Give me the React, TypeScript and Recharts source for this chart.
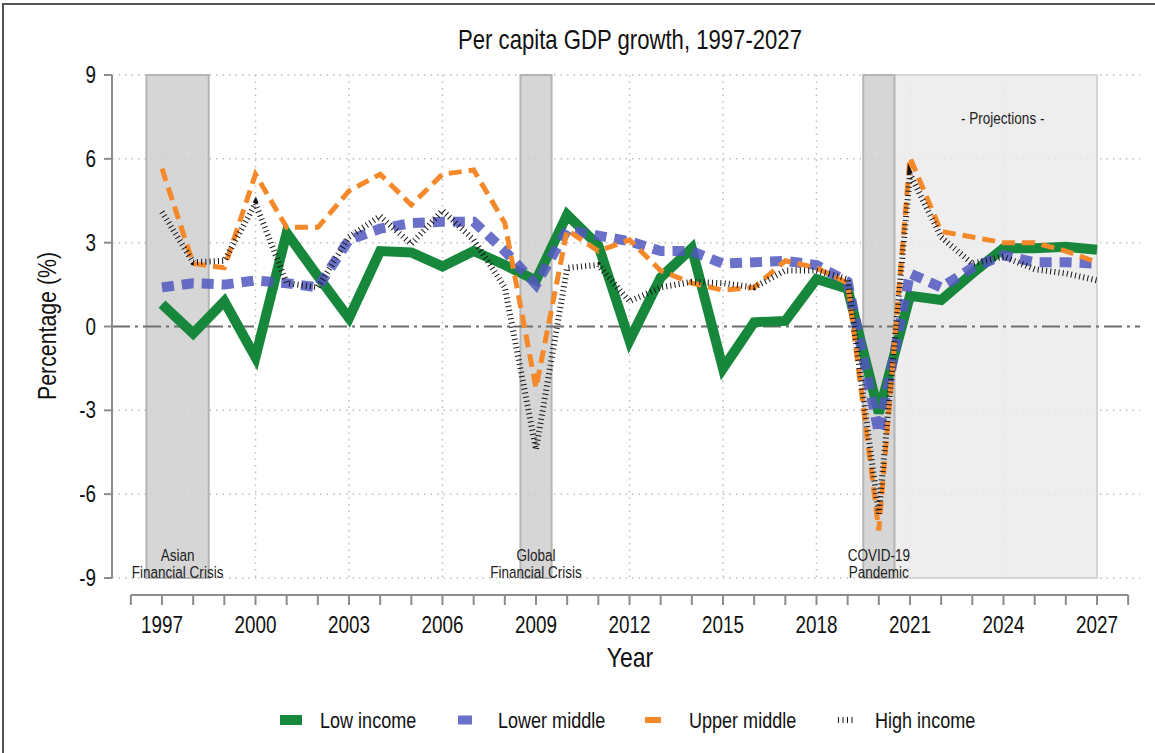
import React from 'react'
import {
  ComposedChart,
  Line,
  XAxis,
  YAxis,
  CartesianGrid,
  ReferenceArea,
  ReferenceLine,
  Legend,
} from 'recharts'

// Arial metrics squeezed horizontally to mimic the narrow Helvetica of the original
const FONT = "'Liberation Sans', Arial, sans-serif"
const SX = 0.82

const years = [
  1997, 1998, 1999, 2000, 2001, 2002, 2003, 2004, 2005, 2006, 2007, 2008, 2009, 2010, 2011, 2012,
  2013, 2014, 2015, 2016, 2017, 2018, 2019, 2020, 2021, 2022, 2023, 2024, 2025, 2026, 2027,
]
const lowIncome = [
  0.8, -0.25, 0.9, -1.1, 3.35, 1.8, 0.3, 2.7, 2.65, 2.15, 2.7, 2.2, 1.65, 4.0, 2.9, -0.5,
  1.75, 2.8, -1.5, 0.15, 0.2, 1.7, 1.35, -3.1, 1.1, 0.95, 1.9, 2.8, 2.8, 2.85, 2.75,
]
const lowerMiddle = [
  1.4, 1.55, 1.5, 1.65, 1.55, 1.4, 3.1, 3.5, 3.7, 3.75, 3.75, 2.7, 1.5, 3.45, 3.25, 3.05,
  2.7, 2.7, 2.25, 2.3, 2.35, 2.2, 1.6, -3.8, 1.9, 1.4, 2.1, 2.55, 2.3, 2.3, 2.25,
]
const upperMiddle = [
  5.65, 2.25, 2.1, 5.45, 3.55, 3.55, 4.85, 5.45, 4.35, 5.45, 5.6, 3.7, -2.2, 3.45, 2.7, 3.1,
  2.0, 1.55, 1.3, 1.4, 2.35, 2.1, 1.55, -7.3, 6.05, 3.4, 3.2, 3.0, 3.0, 2.7, 2.3,
]
const highIncome = [
  4.1, 2.3, 2.35, 4.4, 1.55, 1.4, 3.2, 3.95, 2.95, 4.15, 3.1, 1.4, -4.4, 2.1, 2.2, 0.9,
  1.4, 1.6, 1.55, 1.4, 2.0, 2.0, 1.7, -6.7, 5.45, 3.2, 2.25, 2.5, 2.05, 1.9, 1.65,
]

const axisYears = [
  1996, 1997, 1998, 1999, 2000, 2001, 2002, 2003, 2004, 2005, 2006, 2007, 2008, 2009, 2010, 2011,
  2012, 2013, 2014, 2015, 2016, 2017, 2018, 2019, 2020, 2021, 2022, 2023, 2024, 2025, 2026, 2027, 2028,
]
const labelYears = [1997, 2000, 2003, 2006, 2009, 2012, 2015, 2018, 2021, 2024, 2027]
const yTicks = [-9, -6, -3, 0, 3, 6, 9]

const GREEN = '#17873b'
const BLUE = '#5157bf'
const ORANGE = '#f5892a'
const BLACK = '#151515'
const AXIS = '#8c8c8c'

const data = years.map((year, i) => ({
  year,
  low: lowIncome[i],
  lowerMid: lowerMiddle[i],
  upperMid: upperMiddle[i],
  high: highIncome[i],
}))

function NText({ x, y, size, anchor = 'middle', rotate = 0, fill = '#111', children }: any) {
  return (
    <text
      transform={`translate(${x},${y}) rotate(${rotate}) scale(${SX},1)`}
      x={0}
      y={0}
      textAnchor={anchor}
      fontSize={size}
      fontFamily={FONT}
      fill={fill}
    >
      {children}
    </text>
  )
}

function XTick(props: any) {
  const { x, payload } = props
  const labeled = labelYears.includes(payload.value)
  return (
    <g>
      <line x1={x} x2={x} y1={595} y2={605} stroke={AXIS} strokeWidth={2} />
      {labeled && (
        <NText x={x} y={633} size={23}>
          {payload.value}
        </NText>
      )}
    </g>
  )
}

function YTick(props: any) {
  const { x, y, payload } = props
  return (
    <NText x={x} y={y + 8} size={23} anchor="end">
      {payload.value}
    </NText>
  )
}

function AreaLabel(props: any) {
  const { viewBox, lines, top, dx = 0 } = props
  if (!viewBox) return null
  const cx = viewBox.x + viewBox.width / 2 + dx
  const baseY = top ? viewBox.y + 49 : viewBox.y + viewBox.height - 17
  return (
    <g>
      {lines.map((l: string, i: number) => (
        <NText key={l} x={cx} y={baseY + i * 17} size={16.5} fill="#222">
          {l}
        </NText>
      ))}
    </g>
  )
}

const legendItems = [
  { name: 'Low income', cx: 291, tx: 320 },
  { name: 'Lower middle', cx: 465, tx: 498 },
  { name: 'Upper middle', cx: 653, tx: 689 },
  { name: 'High income', cx: 845, tx: 875 },
]

function Swatch({ i, cx }: { i: number; cx: number }) {
  if (i === 0) return <rect x={cx - 11} y={8} width={22} height={10} fill={GREEN} />
  if (i === 1) return <rect x={cx - 7} y={8.5} width={14} height={9} fill="#6b70c8" />
  if (i === 2) return <rect x={cx - 8} y={10} width={16} height={6} fill={ORANGE} />
  return (
    <g stroke={BLACK} strokeWidth={1}>
      {[0, 1, 2, 3].map((k) => (
        <line key={k} x1={cx - 6.5 + k * 4.5} x2={cx - 6.5 + k * 4.5} y1={10} y2={16} />
      ))}
    </g>
  )
}

function LegendContent() {
  return (
    <svg width={1155} height={30} style={{ display: 'block' }}>
      {legendItems.map((it, i) => (
        <g key={it.name}>
          <Swatch i={i} cx={it.cx} />
          <NText x={it.tx} y={21} size={22} anchor="start">
            {it.name}
          </NText>
        </g>
      ))}
    </svg>
  )
}

export default function App() {
  return (
    <div style={{ position: 'absolute', left: 0, top: 0, width: 1155, height: 753, background: '#fff' }}>
      <ComposedChart
        width={1155}
        height={753}
        data={data}
        margin={{ top: 75, right: 15, bottom: 115, left: 52 }}
      >
        <rect x={3} y={4} width={1170} height={770} fill="none" stroke="#555" strokeWidth={2} />
        <NText x={630} y={49} size={27}>
          Per capita GDP growth, 1997-2027
        </NText>
        <NText x={56} y={326} size={26} rotate={-90}>
          Percentage (%)
        </NText>
        <NText x={630} y={667} size={28}>
          Year
        </NText>
        <CartesianGrid
          stroke="#bdbdbd"
          strokeWidth={1.5}
          strokeDasharray="1.5 5"
          horizontalValues={[-9, -6, -3, 3, 6, 9]}
          verticalValues={labelYears}
        />
        <ReferenceLine y={0} stroke="#6e6e6e" strokeWidth={2} strokeDasharray="18 5 3 5" />
        <ReferenceArea
          x1={1996.5}
          x2={1998.5}
          fill="#cfcfcf"
          fillOpacity={0.85}
          stroke="#b5b5b5"
          strokeWidth={2}
          label={<AreaLabel lines={['Asian', 'Financial Crisis']} />}
        />
        <ReferenceArea
          x1={2008.5}
          x2={2009.5}
          fill="#cfcfcf"
          fillOpacity={0.85}
          stroke="#b5b5b5"
          strokeWidth={2}
          label={<AreaLabel lines={['Global', 'Financial Crisis']} />}
        />
        <ReferenceArea
          x1={2020.5}
          x2={2027}
          fill="#ebebeb"
          fillOpacity={0.85}
          stroke="#d5d5d5"
          strokeWidth={2}
          label={<AreaLabel top dx={7} lines={['- Projections -']} />}
        />
        <ReferenceArea
          x1={2019.5}
          x2={2020.5}
          fill="#cfcfcf"
          fillOpacity={0.85}
          stroke="#b5b5b5"
          strokeWidth={2}
          label={<AreaLabel lines={['COVID-19', 'Pandemic']} />}
        />
        <ReferenceLine
          segment={[
            { x: 1996, y: -9.61 },
            { x: 2028, y: -9.61 },
          ]}
          stroke={AXIS}
          strokeWidth={2}
          ifOverflow="visible"
        />
        <XAxis
          dataKey="year"
          type="number"
          domain={[1995.396, 2028.38]}
          allowDataOverflow
          ticks={axisYears}
          interval={0}
          tick={<XTick />}
          tickLine={false}
          axisLine={false}
          height={60}
        />
        <YAxis
          type="number"
          domain={[-9, 9]}
          ticks={yTicks}
          interval={0}
          width={60}
          tickSize={8}
          tickMargin={8}
          axisLine={{ stroke: AXIS, strokeWidth: 2 }}
          tickLine={{ stroke: AXIS, strokeWidth: 2 }}
          tick={<YTick />}
        />
        <Line
          dataKey="low"
          name="Low income"
          stroke={GREEN}
          strokeWidth={10}
          strokeLinejoin="miter"
          dot={false}
          isAnimationActive={false}
        />
        <Line
          dataKey="lowerMid"
          name="Lower middle"
          stroke={BLUE}
          strokeOpacity={0.85}
          strokeWidth={10}
          strokeDasharray="12 8"
          dot={false}
          isAnimationActive={false}
        />
        <Line
          dataKey="upperMid"
          name="Upper middle"
          stroke={ORANGE}
          strokeWidth={5}
          strokeDasharray="13 7"
          dot={false}
          isAnimationActive={false}
        />
        <Line
          dataKey="high"
          name="High income"
          stroke={BLACK}
          strokeWidth={6}
          strokeDasharray="1 3.2"
          dot={false}
          isAnimationActive={false}
        />
        <Legend
          layout="horizontal"
          verticalAlign="middle"
          align="center"
          wrapperStyle={{ top: 707, left: 0, width: 1155 }}
          content={<LegendContent />}
        />
      </ComposedChart>
    </div>
  )
}
